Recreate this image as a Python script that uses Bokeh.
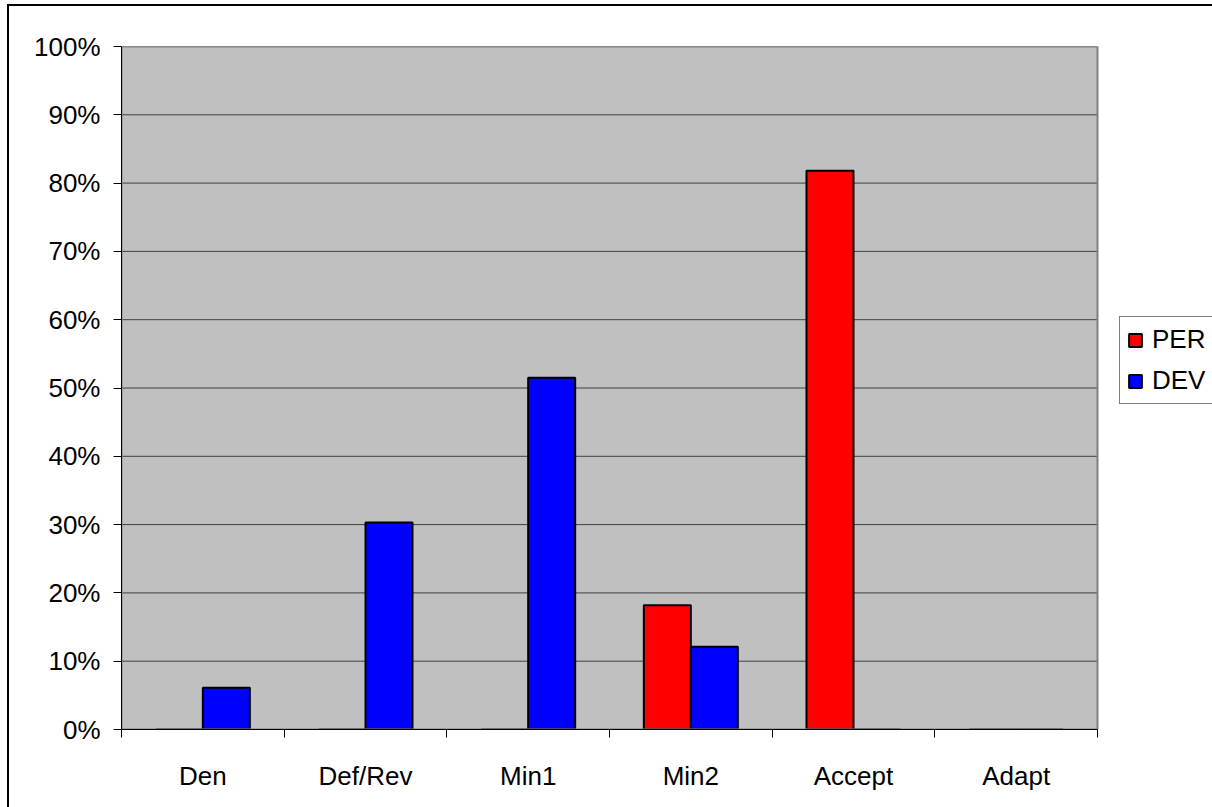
from bokeh.plotting import figure
from bokeh.models import Range1d, FixedTicker, NumeralTickFormatter, Legend, LegendItem
from bokeh.embed import file_html
from bokeh.resources import INLINE

categories = ["Den", "Def/Rev", "Min1", "Min2", "Accept", "Adapt"]
per_values = [0.0, 0.0, 0.0, 0.182, 0.818, 0.0]
dev_values = [0.061, 0.303, 0.515, 0.121, 0.0, 0.0]
y_tick_values = [0.0, 0.1, 0.2, 0.3, 0.4, 0.5, 0.6, 0.7, 0.8, 0.9, 1.0]
series_names = ["PER", "DEV"]
series_colors = ["#FF0000", "#0000FF"]

# canvas offset from page (CSS margin); outer frame line via box-shadow
OX, OY = 9, 6
W, H = 1212 - OX + 10, 807 - OY + 10
FL, FT, FR, FB = 121, 46, 1097, 729   # plot area in page pixels
FONT = "Liberation Sans"
FS = "26px"

n = len(categories)
centers = [2 * i + 1 for i in range(n)]
bounds = [2 * i for i in range(n + 1)]
bw = 0.578
# frame extends to the right edge so the legend can sit inside it
x_max = 2 * n * (OX + W - FL) / (FR - FL)

p = figure(width=W, height=H, output_backend="svg", toolbar_location=None,
           x_range=Range1d(0, x_max), y_range=Range1d(0, 1.0),
           min_border_left=FL - OX, min_border_top=FT - OY,
           min_border_right=0, min_border_bottom=OY + H - FB)
p.styles = {"margin-left": f"{OX}px", "margin-top": f"{OY}px",
            "box-shadow": "-2px -2px 0px 0px #000"}

p.background_fill_color = "white"
p.border_fill_color = "white"
p.outline_line_color = None
p.xgrid.visible = False
p.ygrid.visible = False

# plot area background
p.quad(left=bounds[0], right=bounds[-1], bottom=y_tick_values[0], top=y_tick_values[-1],
       fill_color="#C0C0C0", line_color=None)
# gridlines
p.segment(x0=[bounds[0]] * len(y_tick_values), x1=[bounds[-1]] * len(y_tick_values),
          y0=y_tick_values, y1=y_tick_values, line_color="#404040", line_width=1)

r_per = p.vbar(x=[c - bw / 2 for c in centers], top=per_values, width=bw,
               fill_color=series_colors[0], line_color="black", line_width=2)
r_dev = p.vbar(x=[c + bw / 2 for c in centers], top=dev_values, width=bw,
               fill_color=series_colors[1], line_color="black", line_width=2)

# plot area border (gray)
p.quad(left=bounds[0], right=bounds[-1], bottom=y_tick_values[0], top=y_tick_values[-1],
       fill_color=None, line_color="#808080", line_width=2)

# y axis
ya = p.yaxis[0]
ya.ticker = FixedTicker(ticks=y_tick_values)
ya.formatter = NumeralTickFormatter(format="0%")
ya.major_label_text_font = FONT
ya.major_label_text_font_size = FS
ya.major_label_text_color = "black"
ya.major_tick_in = 0
ya.major_tick_out = 8
ya.major_tick_line_color = "black"
ya.minor_tick_line_color = None
ya.axis_line_color = "black"
ya.axis_line_width = 1
ya.major_label_standoff = 13

# x axis: labels at centers, ticks at boundaries (minor)
xa = p.xaxis[0]
xa.bounds = (bounds[0], bounds[-1])
xa.ticker = FixedTicker(ticks=centers, minor_ticks=bounds)
xa.major_label_overrides = {c: lab for c, lab in zip(centers, categories)}
xa.major_label_text_font = FONT
xa.major_label_text_font_size = FS
xa.major_label_text_color = "black"
xa.major_tick_in = 0
xa.major_tick_out = 0
xa.major_tick_line_color = None
xa.minor_tick_in = 0
xa.minor_tick_out = 8
xa.minor_tick_line_color = "black"
xa.axis_line_color = "black"
xa.major_label_standoff = 23

legend = Legend(items=[LegendItem(label=series_names[0], renderers=[r_per]),
                       LegendItem(label=series_names[1], renderers=[r_dev])],
                location=(1119 - FL, FB - 404))
legend.label_text_font = FONT
legend.label_text_font_size = FS
legend.label_text_color = "black"
legend.glyph_width = 16
legend.glyph_height = 16
legend.label_height = 28
legend.label_standoff = 9
legend.spacing = 10
legend.padding = 7
legend.margin = 0
legend.border_line_color = "black"
legend.border_line_width = 1
legend.background_fill_color = "white"
legend.background_fill_alpha = 1
p.add_layout(legend, "center")

open("out.html", "w").write(file_html(p, INLINE))
